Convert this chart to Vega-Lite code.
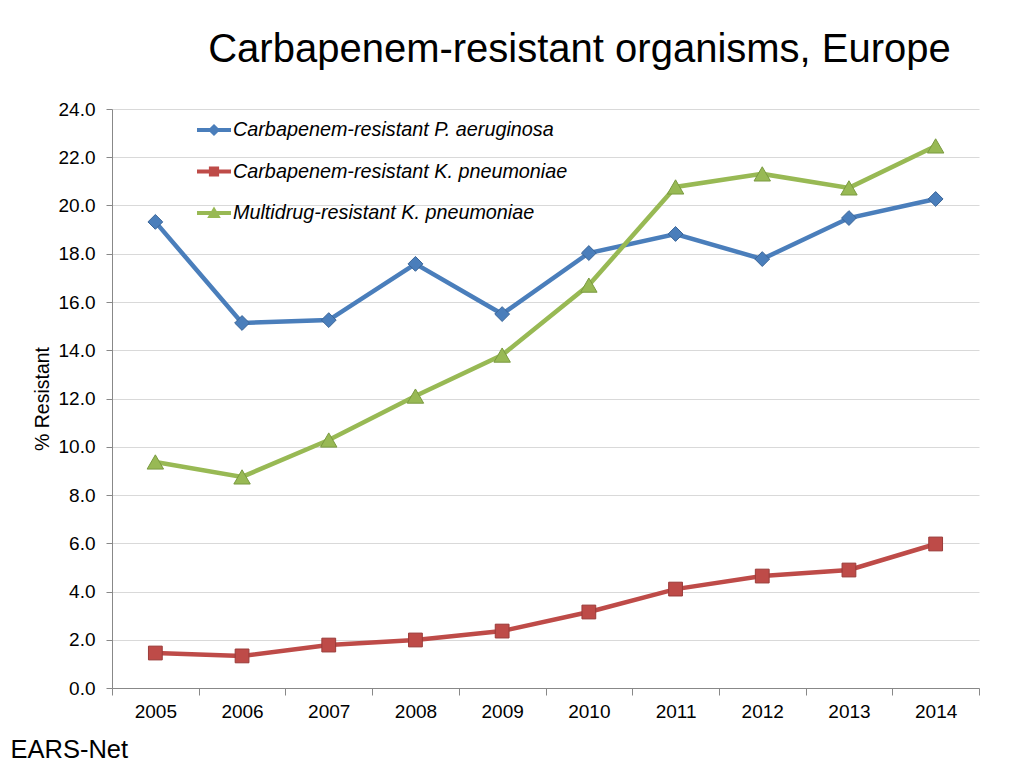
{
  "$schema": "https://vega.github.io/schema/vega-lite/v6.json",
  "autosize": {"type": "none"},
  "width": 867,
  "height": 579,
  "padding": {"left": 112, "top": 109, "right": 45, "bottom": 80},
  "background": "white",
  "config": {
    "font": "Liberation Sans",
    "view": {"stroke": null}
  },
  "title": {
    "text": "Carbapenem-resistant organisms, Europe",
    "font": "Liberation Sans",
    "fontSize": 40,
    "fontWeight": "normal",
    "color": "#000000",
    "anchor": "middle",
    "dx": 34,
    "baseline": "alphabetic",
    "offset": -2
  },
  "data": {
    "values": [
      {"year": "2005", "series": "Carbapenem-resistant P. aeruginosa", "value": 19.32},
      {"year": "2006", "series": "Carbapenem-resistant P. aeruginosa", "value": 15.13},
      {"year": "2007", "series": "Carbapenem-resistant P. aeruginosa", "value": 15.25},
      {"year": "2008", "series": "Carbapenem-resistant P. aeruginosa", "value": 17.58},
      {"year": "2009", "series": "Carbapenem-resistant P. aeruginosa", "value": 15.5},
      {"year": "2010", "series": "Carbapenem-resistant P. aeruginosa", "value": 18.03},
      {"year": "2011", "series": "Carbapenem-resistant P. aeruginosa", "value": 18.82},
      {"year": "2012", "series": "Carbapenem-resistant P. aeruginosa", "value": 17.78},
      {"year": "2013", "series": "Carbapenem-resistant P. aeruginosa", "value": 19.48},
      {"year": "2014", "series": "Carbapenem-resistant P. aeruginosa", "value": 20.27},
      {"year": "2005", "series": "Carbapenem-resistant K. pneumoniae", "value": 1.45},
      {"year": "2006", "series": "Carbapenem-resistant K. pneumoniae", "value": 1.33},
      {"year": "2007", "series": "Carbapenem-resistant K. pneumoniae", "value": 1.78},
      {"year": "2008", "series": "Carbapenem-resistant K. pneumoniae", "value": 1.99},
      {"year": "2009", "series": "Carbapenem-resistant K. pneumoniae", "value": 2.36},
      {"year": "2010", "series": "Carbapenem-resistant K. pneumoniae", "value": 3.15},
      {"year": "2011", "series": "Carbapenem-resistant K. pneumoniae", "value": 4.1},
      {"year": "2012", "series": "Carbapenem-resistant K. pneumoniae", "value": 4.64},
      {"year": "2013", "series": "Carbapenem-resistant K. pneumoniae", "value": 4.89},
      {"year": "2014", "series": "Carbapenem-resistant K. pneumoniae", "value": 5.97},
      {"year": "2005", "series": "Multidrug-resistant K. pneumoniae", "value": 9.37},
      {"year": "2006", "series": "Multidrug-resistant K. pneumoniae", "value": 8.75},
      {"year": "2007", "series": "Multidrug-resistant K. pneumoniae", "value": 10.28},
      {"year": "2008", "series": "Multidrug-resistant K. pneumoniae", "value": 12.1},
      {"year": "2009", "series": "Multidrug-resistant K. pneumoniae", "value": 13.8},
      {"year": "2010", "series": "Multidrug-resistant K. pneumoniae", "value": 16.7},
      {"year": "2011", "series": "Multidrug-resistant K. pneumoniae", "value": 20.77},
      {"year": "2012", "series": "Multidrug-resistant K. pneumoniae", "value": 21.31},
      {"year": "2013", "series": "Multidrug-resistant K. pneumoniae", "value": 20.73},
      {"year": "2014", "series": "Multidrug-resistant K. pneumoniae", "value": 22.47}
    ]
  },
  "encoding": {
    "x": {
      "field": "year",
      "type": "ordinal",
      "scale": {"type": "band", "paddingInner": 0, "paddingOuter": 0},
      "axis": {
        "title": "EARS-Net",
        "titleFont": "Liberation Sans",
        "titleFontSize": 25.5,
        "titleFontWeight": "normal",
        "titleColor": "#000000",
        "titleAlign": "left",
        "titleBaseline": "alphabetic",
        "titleX": -102,
        "titleY": 69,
        "labelAngle": 0,
        "labelFontSize": 19,
        "labelColor": "#000000",
        "labelPadding": 7,
        "tickBand": "extent",
        "tickSize": 7,
        "tickColor": "#888888",
        "domainColor": "#888888",
        "grid": false
      }
    },
    "y": {
      "field": "value",
      "type": "quantitative",
      "scale": {"domain": [0, 24], "nice": false},
      "axis": {
        "title": "% Resistant",
        "titleFont": "Liberation Sans",
        "titleFontSize": 19.5,
        "titleFontWeight": "normal",
        "titleColor": "#000000",
        "titleAngle": 270,
        "titleAlign": "center",
        "titleBaseline": "middle",
        "titleX": -70,
        "titleY": 289.5,
        "values": [0, 2, 4, 6, 8, 10, 12, 14, 16, 18, 20, 22, 24],
        "format": ".1f",
        "labelFontSize": 19,
        "labelColor": "#000000",
        "labelPadding": 11,
        "tickSize": 6,
        "tickColor": "#888888",
        "domainColor": "#888888",
        "gridColor": "#d9d9d9",
        "gridWidth": 1
      }
    },
    "color": {
      "field": "series",
      "type": "nominal",
      "scale": {
        "domain": ["Carbapenem-resistant P. aeruginosa", "Carbapenem-resistant K. pneumoniae", "Multidrug-resistant K. pneumoniae"],
        "range": ["#4a7ebb", "#be4b48", "#98b954"]
      },
      "legend": {
        "title": null,
        "orient": "none",
        "legendX": 85,
        "legendY": 4,
        "padding": 0,
        "labelFont": "Liberation Sans",
        "labelFontSize": 19.8,
        "labelFontStyle": "italic",
        "labelColor": "#000000",
        "labelOffset": 2,
        "labelLimit": 500,
        "rowPadding": 14.5,
        "symbolSize": 1156,
        "symbolStrokeWidth": 0,
        "encode": {
          "symbols": {
            "update": {
              "shape": {"signal": "datum.value === 'Carbapenem-resistant P. aeruginosa' ? 'M-1,-0.12L1,-0.12L1,0.12L-1,0.12Z M0,-0.36L0.36,0L0,0.36L-0.36,0Z' : datum.value === 'Carbapenem-resistant K. pneumoniae' ? 'M-1,-0.12L1,-0.12L1,0.12L-1,0.12Z M-0.3,-0.3L0.3,-0.3L0.3,0.3L-0.3,0.3Z' : 'M-1,-0.12L1,-0.12L1,0.12L-1,0.12Z M0,-0.38L0.4,0.3L-0.4,0.3Z'"},
              "fill": {"scale": "color", "field": "value"},
              "strokeWidth": {"value": 0},
              "opacity": {"value": 1}
            }
          }
        }
      }
    }
  },
  "layer": [
    {
      "mark": {"type": "line", "strokeWidth": 4.5}
    },
    {
      "transform": [{"filter": "datum.series === 'Carbapenem-resistant P. aeruginosa'"}],
      "mark": {"type": "point", "shape": "diamond", "size": 220, "filled": true, "opacity": 1, "stroke": "#3a6598", "strokeWidth": 1}
    },
    {
      "transform": [{"filter": "datum.series === 'Carbapenem-resistant K. pneumoniae'"}],
      "mark": {"type": "point", "shape": "square", "size": 190, "filled": true, "opacity": 1, "stroke": "#9a3b39", "strokeWidth": 1}
    },
    {
      "transform": [{"filter": "datum.series === 'Multidrug-resistant K. pneumoniae'"}],
      "mark": {"type": "point", "shape": "triangle-up", "size": 270, "filled": true, "opacity": 1, "stroke": "#7a9a40", "strokeWidth": 1}
    }
  ]
}
